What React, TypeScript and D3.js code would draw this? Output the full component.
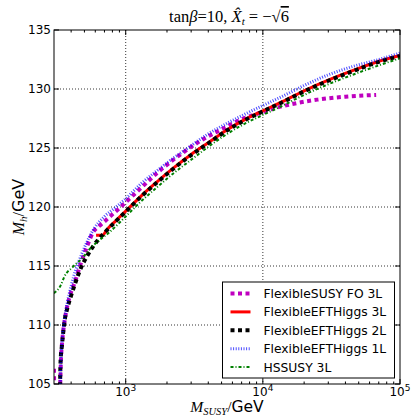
import React from 'react'
import * as d3 from 'd3'

// M_SUSY [GeV], M_h [GeV]; NaN marks a gap in the curve
const fsFo3L: [number, number][] = [
  [300, 106.3], [301, 103.5], [NaN, NaN],
  [333, 105.0], [337, 107.0], [345, 108.7], [357, 110.2], [375, 111.6], [400, 112.8],
  [422, 113.5], [470, 115.2], [520, 116.6], [574, 117.8], [643, 118.4], [720, 118.9],
  [804, 119.4], [900, 119.9], [1000, 120.4], [1290, 121.6], [1700, 122.9], [2611, 124.6],
  [3500, 125.6], [4842, 126.5], [7590, 127.6], [10000, 128.05], [12000, 128.35],
  [16000, 128.7], [25000, 129.1], [40000, 129.35], [67000, 129.5]
]
const eft3L: [number, number][] = [
  [608, 117.6], [680, 117.6], [720, 118.0], [850, 118.85], [1000, 119.65], [1300, 120.95],
  [1700, 122.15], [2200, 123.25], [3000, 124.45], [4000, 125.45], [5500, 126.55],
  [7500, 127.45], [10000, 128.15], [14000, 128.95], [20000, 129.85], [30000, 130.75],
  [45000, 131.55], [70000, 132.35], [100000, 132.85]
]
const eft2L: [number, number][] = [
  [332, 104.8], [335, 106.9], [343, 108.3], [352, 109.6], [360, 110.5], [375, 111.4],
  [400, 112.5], [430, 113.6], [470, 114.8], [520, 115.8], [590, 116.8], [700, 117.8],
  [850, 118.8], [1000, 119.6], [1300, 120.9], [1700, 122.1], [2200, 123.2], [3000, 124.4],
  [4000, 125.4], [5500, 126.5], [7500, 127.4], [10000, 128.1], [14000, 128.9],
  [20000, 129.8], [30000, 130.7], [45000, 131.5], [70000, 132.3], [100000, 132.8]
]
const eft1L: [number, number][] = [
  [333, 105.0], [337, 107.1], [345, 108.9], [357, 110.4], [375, 111.9], [400, 113.3],
  [430, 114.6], [470, 115.8], [520, 117.0], [590, 118.2], [700, 119.2], [850, 120.0],
  [1000, 120.7], [1300, 122.0], [1700, 123.1], [2200, 124.1], [3000, 125.2], [4000, 126.2],
  [5500, 127.1], [7500, 127.9], [10000, 128.6], [14000, 129.4], [20000, 130.3],
  [30000, 131.2], [45000, 131.9], [70000, 132.5], [100000, 133.05]
]
const hssusy3L: [number, number][] = [
  [300, 112.7], [337, 113.4], [357, 114.1], [410, 114.9], [485, 115.7], [543, 116.4],
  [643, 117.2], [750, 117.8], [1000, 119.2], [1300, 120.5], [1700, 121.7], [2200, 122.8],
  [3000, 124.0], [4000, 125.1], [5500, 126.2], [7500, 127.1], [10000, 127.8],
  [14000, 128.6], [20000, 129.5], [30000, 130.4], [45000, 131.2], [70000, 132.0],
  [100000, 132.6]
]

const seriesNames = ['FlexibleSUSY FO 3L', 'FlexibleEFTHiggs 3L', 'FlexibleEFTHiggs 2L',
  'FlexibleEFTHiggs 1L', 'HSSUSY 3L']
const xMajor = [1e3, 1e4, 1e5]
const xMinor = [400, 500, 600, 700, 800, 900, 2000, 3000, 4000, 5000, 6000, 7000, 8000, 9000,
  20000, 30000, 40000, 50000, 60000, 70000, 80000, 90000]
const xMajorLabels = ['3', '4', '5']
const yTicks = [105, 110, 115, 120, 125, 130, 135]

const W = 411, H = 417
const margin = {top: 30, right: 11, bottom: 33, left: 54}

const styles = [
  {color: '#bf00bf', width: 4, dash: '4,3.5', opacity: 1},
  {color: '#ff0000', width: 3, dash: null, opacity: 1},
  {color: '#000000', width: 4, dash: '4,3.5', opacity: 1},
  {color: '#0000ff', width: 3, dash: '1,1.6', opacity: 0.7},
  {color: '#008000', width: 2, dash: '3,2,1,2', opacity: 1}
]

const mathFont = '"Liberation Serif", serif'
const sansFont = '"DejaVu Sans", sans-serif'

export default function App() {
  const iw = W - margin.left - margin.right
  const ih = H - margin.top - margin.bottom
  const x = d3.scaleLog().domain([300, 1e5]).range([0, iw])
  const y = d3.scaleLinear().domain([105, 135]).range([ih, 0])

  const curve = d3.line<[number, number]>()
    .defined(d => !isNaN(d[0]))
    .x(d => x(d[0]))
    .y(d => y(d[1]))
    .curve(d3.curveMonotoneX)

  const allSeries = [fsFo3L, eft3L, eft2L, eft1L, hssusy3L]

  const legX = 222.5 - margin.left, legY = 282 - margin.top
  const legW = 172, legH = 96

  return (
    <svg width={W} height={H} style={{position: 'absolute', left: 0, top: 0, background: '#fff'}}>
      <defs>
        <clipPath id="plotclip">
          <rect x={0} y={0} width={iw} height={ih} />
        </clipPath>
      </defs>
      <text x={margin.left + iw / 2 + 2} y={22} textAnchor="middle" fontFamily={mathFont} fontSize={16.5}>
        <tspan>tan</tspan><tspan fontStyle="italic">β</tspan><tspan>=10, </tspan>
        <tspan fontStyle="italic">X̂</tspan><tspan fontStyle="italic" fontSize={11} dy={3}>t</tspan>
        <tspan dy={-3}> = −√</tspan><tspan textDecoration="overline">6</tspan>
      </text>
      <g transform={`translate(${margin.left},${margin.top})`}>
        {xMajor.slice(0, 2).map(t => (
          <line key={'gx' + t} x1={x(t)} x2={x(t)} y1={0} y2={ih} stroke="#000" strokeWidth={0.8} strokeDasharray="1,2" />
        ))}
        {yTicks.slice(1, -1).map(t => (
          <line key={'gy' + t} x1={0} x2={iw} y1={y(t)} y2={y(t)} stroke="#000" strokeWidth={0.8} strokeDasharray="1,2" />
        ))}
        <g clipPath="url(#plotclip)">
          {allSeries.map((s, i) => (
            <path key={i} d={curve(s) || ''} fill="none" stroke={styles[i].color} strokeOpacity={styles[i].opacity}
              strokeWidth={styles[i].width} strokeDasharray={styles[i].dash || undefined} />
          ))}
        </g>
        <rect x={0} y={0} width={iw} height={ih} fill="none" stroke="#000" strokeWidth={1} />
        {xMajor.map(t => (
          <g key={'xt' + t}>
            <line x1={x(t)} x2={x(t)} y1={ih} y2={ih - 5} stroke="#000" />
            <line x1={x(t)} x2={x(t)} y1={0} y2={5} stroke="#000" />
          </g>
        ))}
        {xMinor.map(t => (
          <g key={'xm' + t}>
            <line x1={x(t)} x2={x(t)} y1={ih} y2={ih - 2.5} stroke="#000" />
            <line x1={x(t)} x2={x(t)} y1={0} y2={2.5} stroke="#000" />
          </g>
        ))}
        {yTicks.map(t => (
          <g key={'yt' + t}>
            <line x1={0} x2={5} y1={y(t)} y2={y(t)} stroke="#000" />
            <line x1={iw} x2={iw - 5} y1={y(t)} y2={y(t)} stroke="#000" />
            <text x={-3} y={y(t)} dy="0.36em" textAnchor="end" fontFamily={sansFont} fontSize={12}>{t}</text>
          </g>
        ))}
        {xMajor.map((t, i) => (
          <text key={'xl' + t} x={x(t)} y={ih + 12} textAnchor="middle" fontFamily={sansFont} fontSize={12}>
            <tspan>10</tspan><tspan fontSize={9} dy={-5}>{xMajorLabels[i]}</tspan>
          </text>
        ))}
        <g transform={`translate(${legX},${legY})`}>
          <rect x={0} y={0} width={legW} height={legH} fill="#fff" stroke="#000" strokeWidth={1} />
          {seriesNames.map((n, i) => (
            <g key={n} transform={`translate(0,${11.5 + i * 18.4})`}>
              <line x1={8} x2={28} y1={0} y2={0} stroke={styles[i].color} strokeOpacity={styles[i].opacity}
                strokeWidth={styles[i].width} strokeDasharray={styles[i].dash || undefined} />
              <text x={41} y={0} dy="0.36em" fontFamily={sansFont} fontSize={12.3}>{n}</text>
            </g>
          ))}
        </g>
      </g>
      <text x={margin.left + iw / 2} y={412} textAnchor="middle" fontSize={15.5}>
        <tspan fontFamily={mathFont} fontStyle="italic">M</tspan>
        <tspan fontFamily={mathFont} fontStyle="italic" fontSize={10.5} dy={3}>SUSY</tspan>
        <tspan fontFamily={mathFont} dy={-3}>/</tspan>
        <tspan fontFamily={sansFont}>GeV</tspan>
      </text>
      <text transform={`translate(24,${margin.top + ih / 2}) rotate(-90)`} textAnchor="middle" fontSize={16}>
        <tspan fontFamily={mathFont} fontStyle="italic">M</tspan>
        <tspan fontFamily={mathFont} fontStyle="italic" fontSize={11} dy={3}>h</tspan>
        <tspan fontFamily={mathFont} dy={-3}>/</tspan>
        <tspan fontFamily={sansFont}>GeV</tspan>
      </text>
    </svg>
  )
}
